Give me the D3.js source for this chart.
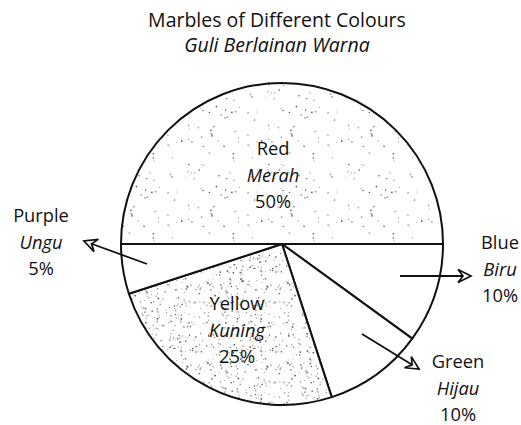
<!DOCTYPE html>
<html>
<head>
<meta charset="utf-8">
<script src="https://cdn.jsdelivr.net/npm/d3@7"></script>
<style>
  html, body { margin: 0; padding: 0; background: #fff; }
  svg { display: block; }
  text { font-family: "Open Sans", "Noto Sans", sans-serif; fill: #111; }
</style>
</head>
<body>
<script>
// Marble colours and their shares (percent)
const categories = ["Red", "Blue", "Green", "Yellow", "Purple"];
const malayNames = ["Merah", "Biru", "Hijau", "Kuning", "Ungu"];
const percents = [50, 10, 10, 25, 5];

const W = 521, H = 425;
const cx = 282, cy = 244, R = 161;

const svg = d3.select("body").append("svg")
  .attr("width", W).attr("height", H);

const defs = svg.append("defs");

// Deterministic stipple texture for the shaded sectors
function stipple(id, size, count, seed, maxR) {
  let s = seed;
  const rnd = () => { s = (s * 1664525 + 1013904223) % 4294967296; return s / 4294967296; };
  const p = defs.append("pattern")
    .attr("id", id).attr("patternUnits", "userSpaceOnUse")
    .attr("width", size).attr("height", size);
  p.append("rect").attr("width", size).attr("height", size).attr("fill", "#fff");
  for (let i = 0; i < count; i++) {
    p.append("circle")
      .attr("cx", rnd() * size).attr("cy", rnd() * size)
      .attr("r", 0.4 + rnd() * maxR)
      .attr("fill", rnd() < 0.5 ? "#555" : "#999");
  }
}
stipple("dotsLight", 80, 60, 12345, 0.5);
stipple("dotsDense", 80, 260, 98765, 0.5);

const fills = { Red: "url(#dotsLight)", Yellow: "url(#dotsDense)" };

// Arrowhead used for the callouts
defs.append("marker")
  .attr("id", "arrow").attr("viewBox", "-14 -8 16 16")
  .attr("refX", 0).attr("refY", 0)
  .attr("markerWidth", 16).attr("markerHeight", 16)
  .attr("markerUnits", "userSpaceOnUse")
  .attr("orient", "auto")
  .append("path")
  .attr("d", "M-13,-6.5 L0,0 L-13,6.5 L-8,0 Z")
  .attr("fill", "#fff").attr("stroke", "#111").attr("stroke-width", 1.7)
  .attr("stroke-linejoin", "miter");

const data = categories.map((c, i) => ({ name: c, malay: malayNames[i], value: percents[i] }));

const pie = d3.pie().sort(null).value(d => d.value)
  .startAngle(-Math.PI / 2).endAngle(3 * Math.PI / 2);
const arc = d3.arc().innerRadius(0).outerRadius(R);

const g = svg.append("g").attr("transform", `translate(${cx},${cy})`);
g.selectAll("path.slice")
  .data(pie(data))
  .join("path")
  .attr("class", "slice")
  .attr("d", arc)
  .attr("fill", d => fills[d.data.name] || "#fff")
  .attr("stroke", "#111")
  .attr("stroke-width", 2)
  .attr("stroke-linejoin", "round");

// Title
svg.append("text").attr("x", 277).attr("y", 27).attr("text-anchor", "middle")
  .style("font-size", "19.5px").text("Marbles of Different Colours");
svg.append("text").attr("x", 277).attr("y", 52).attr("text-anchor", "middle")
  .style("font-size", "19.5px").style("font-style", "italic").text("Guli Berlainan Warna");

// Label block placement for each category
const labelPos = {
  Red: [273, 155], Blue: [500, 249], Green: [458, 368], Yellow: [237, 310], Purple: [41, 222]
};
const lineGap = 26.5;
data.forEach(d => {
  const [x, y] = labelPos[d.name];
  const t = svg.append("text").attr("text-anchor", "middle").style("font-size", "18.3px");
  t.append("tspan").attr("x", x).attr("y", y).text(d.name);
  t.append("tspan").attr("x", x).attr("y", y + lineGap).style("font-style", "italic").text(d.malay);
  t.append("tspan").attr("x", x).attr("y", y + 2 * lineGap).text(d.value + "%");
});

// Callout arrows from the small sectors to their labels
const arrows = [
  [[147, 264], [84, 241]],
  [[400, 276], [471, 276]],
  [[362, 334], [419, 369]]
];
svg.selectAll("line.callout")
  .data(arrows)
  .join("line")
  .attr("class", "callout")
  .attr("x1", d => d[0][0]).attr("y1", d => d[0][1])
  .attr("x2", d => d[1][0]).attr("y2", d => d[1][1])
  .attr("stroke", "#111").attr("stroke-width", 1.8)
  .attr("marker-end", "url(#arrow)");
</script>
</body>
</html>
